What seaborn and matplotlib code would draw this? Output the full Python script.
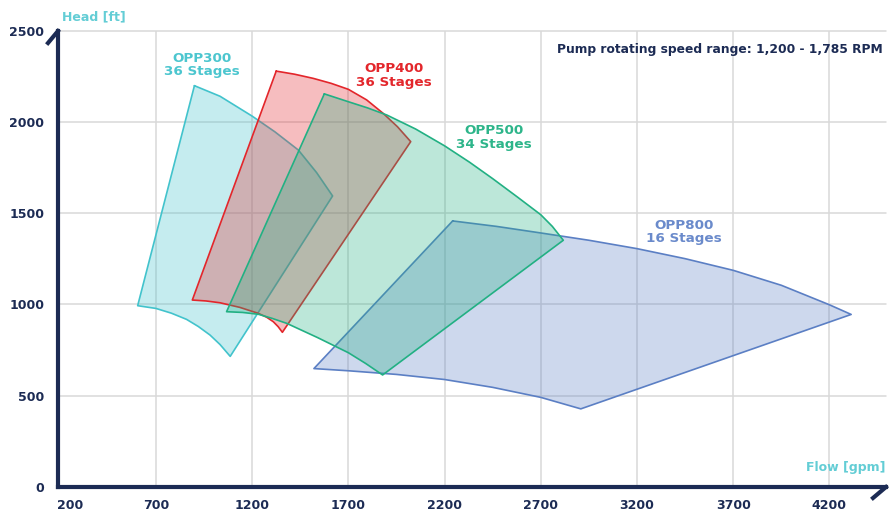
import matplotlib
matplotlib.use("Agg")
import matplotlib.pyplot as plt
from matplotlib.lines import Line2D
from matplotlib.transforms import ScaledTranslation
import seaborn as sns
import pandas as pd

# ---------------- data ----------------
flow_ticks = [200, 700, 1200, 1700, 2200, 2700, 3200, 3700, 4200]
head_ticks = [0, 500, 1000, 1500, 2000, 2500]

models = ["OPP800", "OPP300", "OPP400", "OPP500"]
stages = ["16 Stages", "36 Stages", "36 Stages", "34 Stages"]

# operating envelopes (flow gpm, head ft), vertices read around each outline
opp300_flow = [900, 1033, 1200, 1318, 1440, 1535, 1618,
               1086, 1033, 981, 920, 859, 780, 700, 605]
opp300_head = [2200, 2142, 2033, 1947, 1847, 1723, 1595,
               715, 780, 832, 879, 918, 952, 978, 993]

opp400_flow = [1325, 1420, 1518, 1610, 1700, 1795, 1881, 1955, 2024,
               1357, 1335, 1310, 1275, 1232, 1135, 1033, 960, 889]
opp400_head = [2280, 2263, 2240, 2213, 2180, 2122, 2048, 1975, 1893,
               847, 878, 905, 930, 951, 984, 1009, 1019, 1024]

opp500_flow = [1575, 1700, 1800, 1900, 2050, 2200, 2330, 2450, 2580, 2700, 2760, 2817,
               1878, 1790, 1700, 1540, 1380, 1305, 1232, 1150, 1067]
opp500_head = [2155, 2112, 2078, 2039, 1962, 1870, 1780, 1690, 1588, 1492, 1428, 1352,
               613, 676, 735, 818, 896, 923, 946, 956, 960]

opp800_flow = [2242, 2470, 2700, 2950, 3200, 3450, 3700, 3950, 4200, 4313,
               2908, 2700, 2450, 2200, 1950, 1700, 1521]
opp800_head = [1458, 1428, 1392, 1352, 1306, 1251, 1187, 1105, 998, 945,
               427, 490, 545, 588, 616, 636, 648]

label_flow = [3446, 939, 1937, 2457]
label_head = [1398, 2313, 2257, 1915]

# ---------------- style ----------------
navy = "#1c2b54"
edge_colors = ["#5b7fc4", "#42c3cc", "#e3262b", "#22b083"]
text_colors = ["#6a8acb", "#4cc6cf", "#e3262b", "#2db58a"]
axis_label_color = "#63cdd5"

sns.set_style("white")
plt.rcParams["font.family"] = ["DejaVu Sans"]

W, H = 890, 511
fig = plt.figure(figsize=(W / 100, H / 100), dpi=100)
ax_left, ax_right, ax_bottom, ax_top = 58, 886, 511 - 486.7, 511 - 31
ax = fig.add_axes([ax_left / W, ax_bottom / H, (ax_right - ax_left) / W, (ax_top - ax_bottom) / H])

ax.set_xlim(191, 4494)
ax.set_ylim(0, 2500)

# grid
for xv in flow_ticks[1:]:
    ax.axvline(xv, color="#d9d9d9", lw=1.1, zorder=0)
for yv in head_ticks[1:]:
    ax.axhline(yv, color="#d9d9d9", lw=1.1, zorder=0, clip_on=False)

# envelopes
flows = [opp800_flow, opp300_flow, opp400_flow, opp500_flow]
heads = [opp800_head, opp300_head, opp400_head, opp500_head]
for i, (fx, hy) in enumerate(zip(flows, heads)):
    ax.fill(fx, hy, color=edge_colors[i], alpha=0.3, lw=0, zorder=2 + 2 * i)
    df = pd.DataFrame({"flow": fx + [fx[0]], "head": hy + [hy[0]]})
    sns.lineplot(data=df, x="flow", y="head", sort=False, estimator=None,
                 color=edge_colors[i], lw=1.2, ax=ax)
    ax.lines[-1].set_zorder(2.5 + 2 * i)
    ax.lines[-1].set_solid_joinstyle("round")
    ax.text(label_flow[i], label_head[i], f"{models[i]}\n{stages[i]}",
            ha="center", va="center", color=text_colors[i], fontsize=9.7,
            fontweight="bold", linespacing=1.05, zorder=20)

# axes / spines
for s in ["top", "right"]:
    ax.spines[s].set_visible(False)
for s in ["left", "bottom"]:
    ax.spines[s].set_color(navy)
    ax.spines[s].set_linewidth(3.0)
    ax.spines[s].set_capstyle("projecting")
    ax.spines[s].set_zorder(30)

ax.set_xticks(flow_ticks)
ax.set_yticks(head_ticks)
ax.set_xticklabels([str(v) for v in flow_ticks])
ax.set_yticklabels([str(v) for v in head_ticks])
ax.tick_params(axis="both", length=0, labelcolor=navy, labelsize=9)
ax.tick_params(axis="x", pad=9)
ax.tick_params(axis="y", pad=10)
for lab in ax.get_xticklabels() + ax.get_yticklabels():
    lab.set_fontweight("bold")
first = ax.get_xticklabels()[0]
first.set_transform(first.get_transform() + ScaledTranslation(0.1, 0, fig.dpi_scale_trans))
ax.set_xlabel("")
ax.set_ylabel("")

# arrow hooks at axis ends
fig.add_artist(Line2D([58 / W, 48 / W], [(H - 31) / H, (H - 43) / H],
                      color=navy, lw=3.0, solid_capstyle="projecting"))
fig.add_artist(Line2D([886 / W, 873 / W], [(H - 487) / H, (H - 498) / H],
                      color=navy, lw=3.0, solid_capstyle="projecting"))

# texts
fig.text(62 / W, 1 - 17.3 / H, "Head [ft]", ha="left", va="center",
         color=axis_label_color, fontsize=9, fontweight="bold")
fig.text(885 / W, 1 - 467.3 / H, "Flow [gpm]", ha="right", va="center",
         color=axis_label_color, fontsize=9, fontweight="bold")
fig.text(883 / W, 1 - 50 / H, "Pump rotating speed range: 1,200 - 1,785 RPM",
         ha="right", va="center", color=navy, fontsize=8.8, fontweight="bold")

fig.savefig("out.png", dpi=100)
